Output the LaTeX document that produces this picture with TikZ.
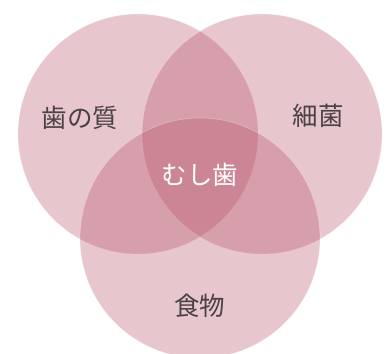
\documentclass[tikz,border=0pt]{standalone}
\usepackage{fontspec}
\newfontfamily\cjk{Noto Sans CJK JP}
\definecolor{venn}{RGB}{183,82,104}
\definecolor{labelgray}{RGB}{75,66,70}
\begin{document}
\begin{tikzpicture}[x=1pt,y=-1pt]
\tikzset{
  setcircle/.style={circle, minimum size=240pt, inner sep=0pt, fill=venn, fill opacity=0.33, draw=white, draw opacity=0.25, line width=0.8pt},
  lbl/.style={font=\cjk\fontsize{25.5}{25.5}\selectfont, text=labelgray, inner sep=0pt},
  centerlbl/.style={font=\cjk\fontsize{25.5}{25.5}\selectfont, text=white, inner sep=0pt}
}
\fill[white] (0,0) rectangle (392,354);
\useasboundingbox (0,0) rectangle (392,354);
\begin{scope}
\clip (0,0) rectangle (392,354);
\node[setcircle] (teeth) at (138,134) {};
\node[setcircle] (bact) at (262,134) {};
\node[setcircle] (food) at (200,238) {};
\end{scope}
\node[lbl] (lteeth) at (80,118) {歯の質};
\node[lbl] (lbact) at (318,116) {細菌};
\node[lbl] (lfood) at (200,306) {食物};
\node[centerlbl] (lcaries) at (200,175) {むし歯};
\end{tikzpicture}
\end{document}
